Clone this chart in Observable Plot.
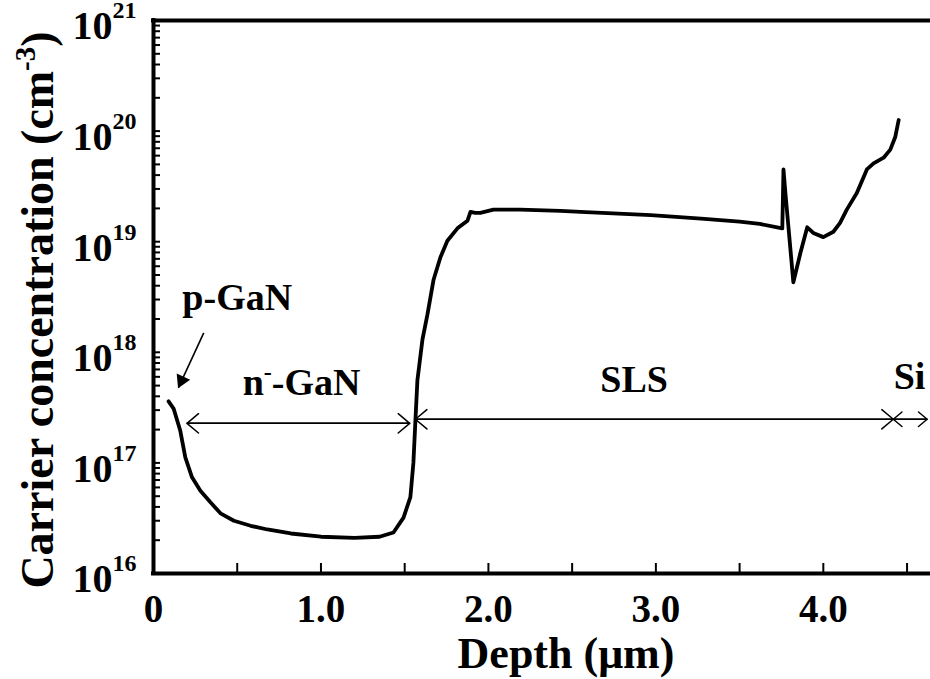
<!DOCTYPE html>
<html><head><meta charset="utf-8">
<script src="https://cdn.jsdelivr.net/npm/d3@7"></script>
<script src="https://cdn.jsdelivr.net/npm/@observablehq/plot@0.6"></script>
<style>body{margin:0;background:#fff}</style>
</head><body><div id="chart"></div>
<script>
// ---- data ----
const depth = [0.09,0.12,0.16,0.19,0.23,0.28,0.34,0.40,0.48,0.58,
  0.68,0.82,1.00,1.20,1.35,1.433,1.493,1.534,1.552,1.564,
  1.576,1.606,1.636,1.672,1.713,1.755,1.815,1.875,1.893,1.922,
  1.952,2.03,2.19,2.43,2.55,2.97,3.27,3.50,3.62,3.755,
  3.762,3.775,3.79,3.821,3.863,3.904,3.94,4.00,4.06,4.10,
  4.14,4.20,4.26,4.30,4.36,4.40,4.43,4.45];
const conc = [3.6e17,3.1e17,1.95e17,1.12e17,7.4e16,5.6e16,4.4e16,3.5e16,3.0e16,2.7e16,
  2.5e16,2.3e16,2.15e16,2.1e16,2.15e16,2.35e16,3.2e16,4.9e16,1.0e17,2.4e17,
  5.6e17,1.3e18,2.2e18,4.5e18,7.2e18,1.02e19,1.32e19,1.55e19,1.86e19,1.82e19,
  1.82e19,1.95e19,1.95e19,1.9e19,1.86e19,1.74e19,1.62e19,1.52e19,1.45e19,1.32e19,
  4.5e19,2.6e19,1.45e19,4.3e18,7.9e18,1.35e19,1.2e19,1.1e19,1.23e19,1.48e19,
  1.95e19,2.75e19,4.5e19,5.1e19,5.75e19,6.8e19,8.9e19,1.26e20];

const xMinorTicks = [0.5,1,1.5,2,2.5,3,3.5,4,4.5];
const xLabelTicks = [0,1,2,3,4];
const xTickLabels = ["0","1.0","2.0","3.0","4.0"];
const yMajorTicks = [1e16,1e17,1e18,1e19,1e20,1e21];
const yExponents = ["16","17","18","19","20","21"];
const yMinorMultipliers = [2,3,4,5,6,7,8,9];

const labelText = ["p-GaN","n^{-}-GaN","SLS","Si"];
const labelX = [0.50, 0.884, 2.87, 4.515];
const labelY = [3.1e18, 5.25e17, 5.6e17, 6.0e17];

const spanStart = [0.20, 1.564, 4.418];
const spanEnd   = [1.53, 4.418, 4.62];
const spanY     = [2.28e17, 2.48e17, 2.48e17];

const pointerFrom = {x: 0.30, y: 1.5e18};
const pointerTo   = {x: 0.149, y: 4.8e17};

const xTitle = "Depth (μm)";
const yTitle = "Carrier concentration (cm^{-3})";

// ---- derived tables ----
const curve = depth.map((d, i) => ({d, c: conc[i]}));
const yAllTicks = yMajorTicks.slice(0, -1).flatMap(t => [t, ...yMinorMultipliers.map(m => m * t)]).concat([yMajorTicks[yMajorTicks.length - 1]]);
const labels = labelText.map((t, i) => ({t, x: labelX[i], y: labelY[i]}));
const spans = spanStart.map((s, i) => ({a: s, b: spanEnd[i], y: spanY[i]}));

const font = "'Liberation Serif', 'Times New Roman', serif";
const arrowOpts = {bend: 0, headLength: 15, headAngle: 80, strokeWidth: 1.5, stroke: "#000"};

const plot = Plot.plot({
  width: 930, height: 679,
  marginLeft: 153, marginRight: 0, marginTop: 20, marginBottom: 106,
  style: {fontFamily: font, background: "#fff", color: "#000", overflow: "visible"},
  x: {domain: [0, 4.64]},
  y: {type: "log", domain: [1e16, 1e21]},
  marks: [
    Plot.axisX({ticks: xMinorTicks, tickSize: -10, strokeWidth: 2, tickFormat: () => "", label: null}),
    Plot.axisX({ticks: xLabelTicks, tickSize: 0, tickPadding: 21,
      tickFormat: d => xTickLabels[xLabelTicks.indexOf(d)], fontSize: 39, fontWeight: "bold", label: null}),
    Plot.axisY({ticks: yAllTicks, tickSize: -7, strokeWidth: 2, tickFormat: () => "", label: null}),
    Plot.axisY({ticks: yMajorTicks, tickSize: 0, tickPadding: 17, dy: 6,
      tickFormat: d => "10^{" + yExponents[yMajorTicks.indexOf(d)] + "}", fontSize: 40, fontWeight: "bold", label: null}),
    Plot.ruleX([0], {strokeWidth: 4, strokeLinecap: "square"}),
    Plot.ruleY([1e16, 1e21], {strokeWidth: 4, strokeLinecap: "square"}),
    Plot.line(curve, {x: "d", y: "c", strokeWidth: 3.8, strokeLinejoin: "round", strokeLinecap: "round", stroke: "#000"}),
    Plot.arrow(spans, {x1: "a", x2: "b", y1: "y", y2: "y", ...arrowOpts}),
    Plot.arrow(spans, {x1: "b", x2: "a", y1: "y", y2: "y", ...arrowOpts}),
    Plot.link([pointerFrom], {x1: "x", y1: "y", x2: () => pointerTo.x, y2: () => pointerTo.y, strokeWidth: 1.6, stroke: "#000"}),
    Plot.dot([pointerTo], {x: "x", y: "y", symbol: "triangle", r: 5.5, fill: "#000", stroke: null, rotate: 204.5, dx: 3.2, dy: -7.1}),
    Plot.text(labels, {x: "x", y: "y", text: "t", fontSize: 38, fontWeight: "bold", fill: "#000"}),
    Plot.text([yTitle], {frameAnchor: "left", textAnchor: "middle", lineAnchor: "middle", dx: -115, dy: 13, rotate: -90, fontSize: 46, fontWeight: "bold", fill: "#000"}),
    Plot.text([xTitle], {frameAnchor: "bottom", textAnchor: "middle", lineAnchor: "middle", dx: 24, dy: 80, fontSize: 44, fontWeight: "bold", fill: "#000"})
  ]
});
document.getElementById("chart").append(plot);

// turn "a^{b}c" into real superscript tspans
const NS = "http://www.w3.org/2000/svg";
plot.querySelectorAll("text").forEach(t => {
  const s = t.textContent;
  if (!s.includes("^{")) return;
  const isTick = !!t.closest('[aria-label="y-axis tick label"]');
  const isTitle = s.startsWith("Carrier");
  const shift = isTick ? 21 : isTitle ? 18 : 15;
  const supSize = isTick ? 24 : isTitle ? 29 : 24;
  const parts = s.split(/\^\{([^}]*)\}/);
  t.textContent = "";
  let raised = false;
  parts.forEach((p, i) => {
    if (p === "") return;
    const ts = document.createElementNS(NS, "tspan");
    ts.textContent = p;
    if (i % 2 === 1) {
      ts.setAttribute("dy", -shift);
      ts.setAttribute("font-size", supSize);
      raised = true;
    } else if (raised) {
      ts.setAttribute("dy", shift);
      raised = false;
    }
    t.append(ts);
  });
});
</script>
</body></html>
